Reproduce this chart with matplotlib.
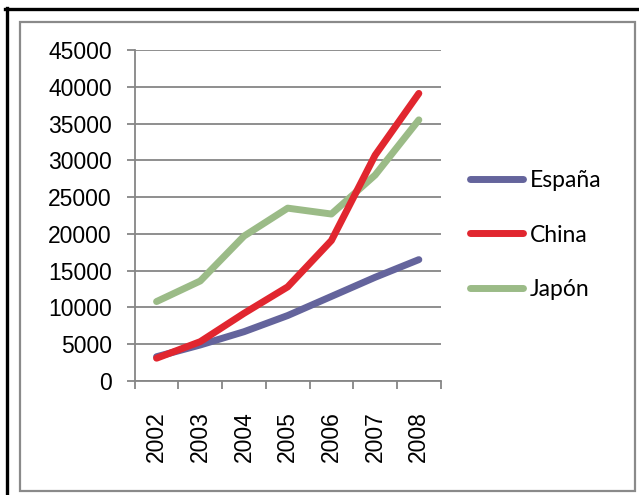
import matplotlib
matplotlib.use("Agg")
import matplotlib.pyplot as plt
from matplotlib.lines import Line2D
from matplotlib.patches import Rectangle
import numpy as np

years = ["2002", "2003", "2004", "2005", "2006", "2007", "2008"]
espana = [3300, 4900, 6700, 8900, 11500, 14100, 16500]
china = [3100, 5350, 9200, 12800, 19100, 30700, 39100]
japon = [10800, 13600, 19700, 23500, 22700, 28000, 35500]
y_ticks = [0, 5000, 10000, 15000, 20000, 25000, 30000, 35000, 40000, 45000]

W, H = 639, 495
fig = plt.figure(figsize=(W / 100, H / 100), dpi=100)

def fx(px):
    return px / W

def fy(py):
    return 1 - py / H

# outer frame lines
fig.add_artist(Line2D([fx(5), 1], [fy(8.7), fy(8.7)], color="black", lw=2.4))
fig.add_artist(Line2D([fx(6.5), fx(6.5)], [fy(7.5), 0], color="black", lw=2.4))
fig.add_artist(Rectangle((fx(20), fy(491)), fx(635) - fx(20), fy(22) - fy(491),
                         transform=fig.transFigure, fill=False, edgecolor="#8a8a8a", lw=1.6))

left, right, top, bottom = 134.7, 440.7, 50, 381
ax = fig.add_axes([fx(left), fy(bottom), fx(right) - fx(left), fy(top) - fy(bottom)])

x = np.arange(len(years))
grid_c = "#868686"
ax.plot(x, espana, color="#64649c", lw=5, solid_capstyle="round", solid_joinstyle="round", label="España", zorder=3)
ax.plot(x, china, color="#e1262f", lw=5, solid_capstyle="round", solid_joinstyle="round", label="China", zorder=4)
ax.plot(x, japon, color="#9bbb87", lw=5, solid_capstyle="round", solid_joinstyle="round", label="Japón", zorder=2)

ax.set_xlim(-0.5, len(years) - 0.5)
ax.set_ylim(0, 45000)
ax.set_yticks(y_ticks)
ax.set_yticklabels([str(v) for v in y_ticks], fontsize=16.5, family="Liberation Sans")
ax.tick_params(axis="y", direction="out", length=6, width=1.3, color=grid_c, pad=10.5)

ax.set_xticks(np.arange(-0.5, len(years)), minor=False)
ax.set_xticklabels([])
ax.set_xticks(x, minor=True)
ax.set_xticklabels(years, minor=True, rotation=90, fontsize=16.5, family="Liberation Sans")
ax.tick_params(axis="x", which="major", direction="out", length=6, width=1.3, color=grid_c)
ax.tick_params(axis="x", which="minor", length=0, pad=22)

ax.yaxis.grid(True, color=grid_c, lw=1.3)
ax.set_axisbelow(True)
for s in ["top", "right"]:
    ax.spines[s].set_visible(False)
for s in ["left", "bottom"]:
    ax.spines[s].set_color(grid_c)
    ax.spines[s].set_linewidth(1.3)

leg = fig.legend(handles=ax.get_lines(), loc="center left",
                 bbox_to_anchor=(fx(470), fy(235)), frameon=False,
                 prop={"family": "Lato", "size": 16.5}, handlelength=2.3,
                 handletextpad=0.3, labelspacing=1.45, borderpad=0,
                 borderaxespad=0)

fig.savefig("out.png", dpi=100)
